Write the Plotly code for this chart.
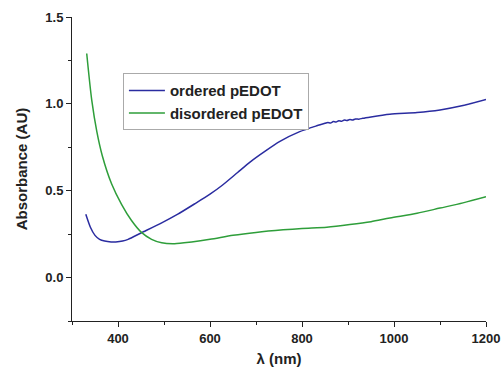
import plotly.graph_objects as go

# Ordered pEDOT
ordered_nm = [330, 340, 350, 360, 371, 385, 395, 410, 422, 451, 495, 530, 567, 600, 626, 660, 687,
              720, 752, 795, 830, 850, 856, 862, 868, 874, 880, 886, 892, 898, 904, 910, 916,
              924, 932, 950, 991, 1050, 1100, 1150, 1200]
ordered_abs = [0.365, 0.29, 0.243, 0.22, 0.21, 0.205, 0.205, 0.21, 0.22, 0.258, 0.315, 0.365, 0.425,
               0.48, 0.53, 0.605, 0.665, 0.728, 0.784, 0.84, 0.872, 0.888, 0.893, 0.89, 0.898, 0.895,
               0.903, 0.9, 0.907, 0.904, 0.91, 0.907, 0.913, 0.912, 0.917, 0.925, 0.94, 0.95,
               0.965, 0.99, 1.025]

# Disordered pEDOT
disordered_nm = [332, 343, 354, 366, 386, 408, 429, 451, 473, 495, 523, 560, 600, 650, 700,
                 759, 800, 854, 904, 950, 991, 1050, 1100, 1150, 1200]
disordered_abs = [1.29, 1.02, 0.84, 0.70, 0.54, 0.42, 0.33, 0.26, 0.22, 0.20, 0.195, 0.205, 0.22,
                  0.243, 0.26, 0.275, 0.283, 0.29, 0.305, 0.322, 0.343, 0.37, 0.40, 0.43, 0.465]

FONT = "Liberation Sans, Arial, sans-serif"
INK = "#222222"

fig = go.Figure()
fig.add_trace(go.Scatter(x=ordered_nm, y=ordered_abs, mode="lines", name="ordered pEDOT",
                         line=dict(color="#2a2ca0", width=1.5, shape="spline", smoothing=0.6)))
fig.add_trace(go.Scatter(x=disordered_nm, y=disordered_abs, mode="lines", name="disordered pEDOT",
                         line=dict(color="#2e9e3a", width=1.5, shape="spline", smoothing=0.8)))

axis_common = dict(
    showline=True, linecolor=INK, linewidth=1,
    ticks="outside", ticklen=5, tickcolor=INK, tickwidth=1,
    showgrid=False, zeroline=False, automargin=False,
    tickfont=dict(family=FONT, size=13, color=INK, weight="bold"),
)

fig.update_xaxes(range=[300, 1200], tickmode="array", tickvals=[400, 600, 800, 1000, 1200],
                 minor=dict(tickvals=[300, 500, 700, 900, 1100], ticks="outside", ticklen=3,
                            tickcolor=INK, showgrid=False),
                 title=dict(text="λ (nm)", font=dict(family=FONT, size=15, color=INK, weight="bold"),
                            standoff=8),
                 **axis_common)
fig.update_yaxes(range=[-0.25, 1.5], tickmode="array", tickvals=[0.0, 0.5, 1.0, 1.5],
                 ticktext=["0.0", "0.5", "1.0", "1.5"],
                 minor=dict(tickvals=[-0.25, 0.25, 0.75, 1.25], ticks="outside", ticklen=3,
                            tickcolor=INK, showgrid=False),
                 title=dict(text="Absorbance (AU)", font=dict(family=FONT, size=15, color=INK, weight="bold"),
                            standoff=14),
                 **axis_common)

fig.update_layout(
    width=504, height=373,
    margin=dict(l=72, r=18, t=17, b=52),
    paper_bgcolor="white", plot_bgcolor="white",
    showlegend=True,
    legend=dict(x=0.123, y=0.815, xanchor="left", yanchor="top",
                bordercolor="#aaaaaa", borderwidth=1, bgcolor="white",
                font=dict(family=FONT, size=15, color=INK, weight="bold"),
                tracegroupgap=0, itemwidth=36),
)

fig.write_html("out.html")
